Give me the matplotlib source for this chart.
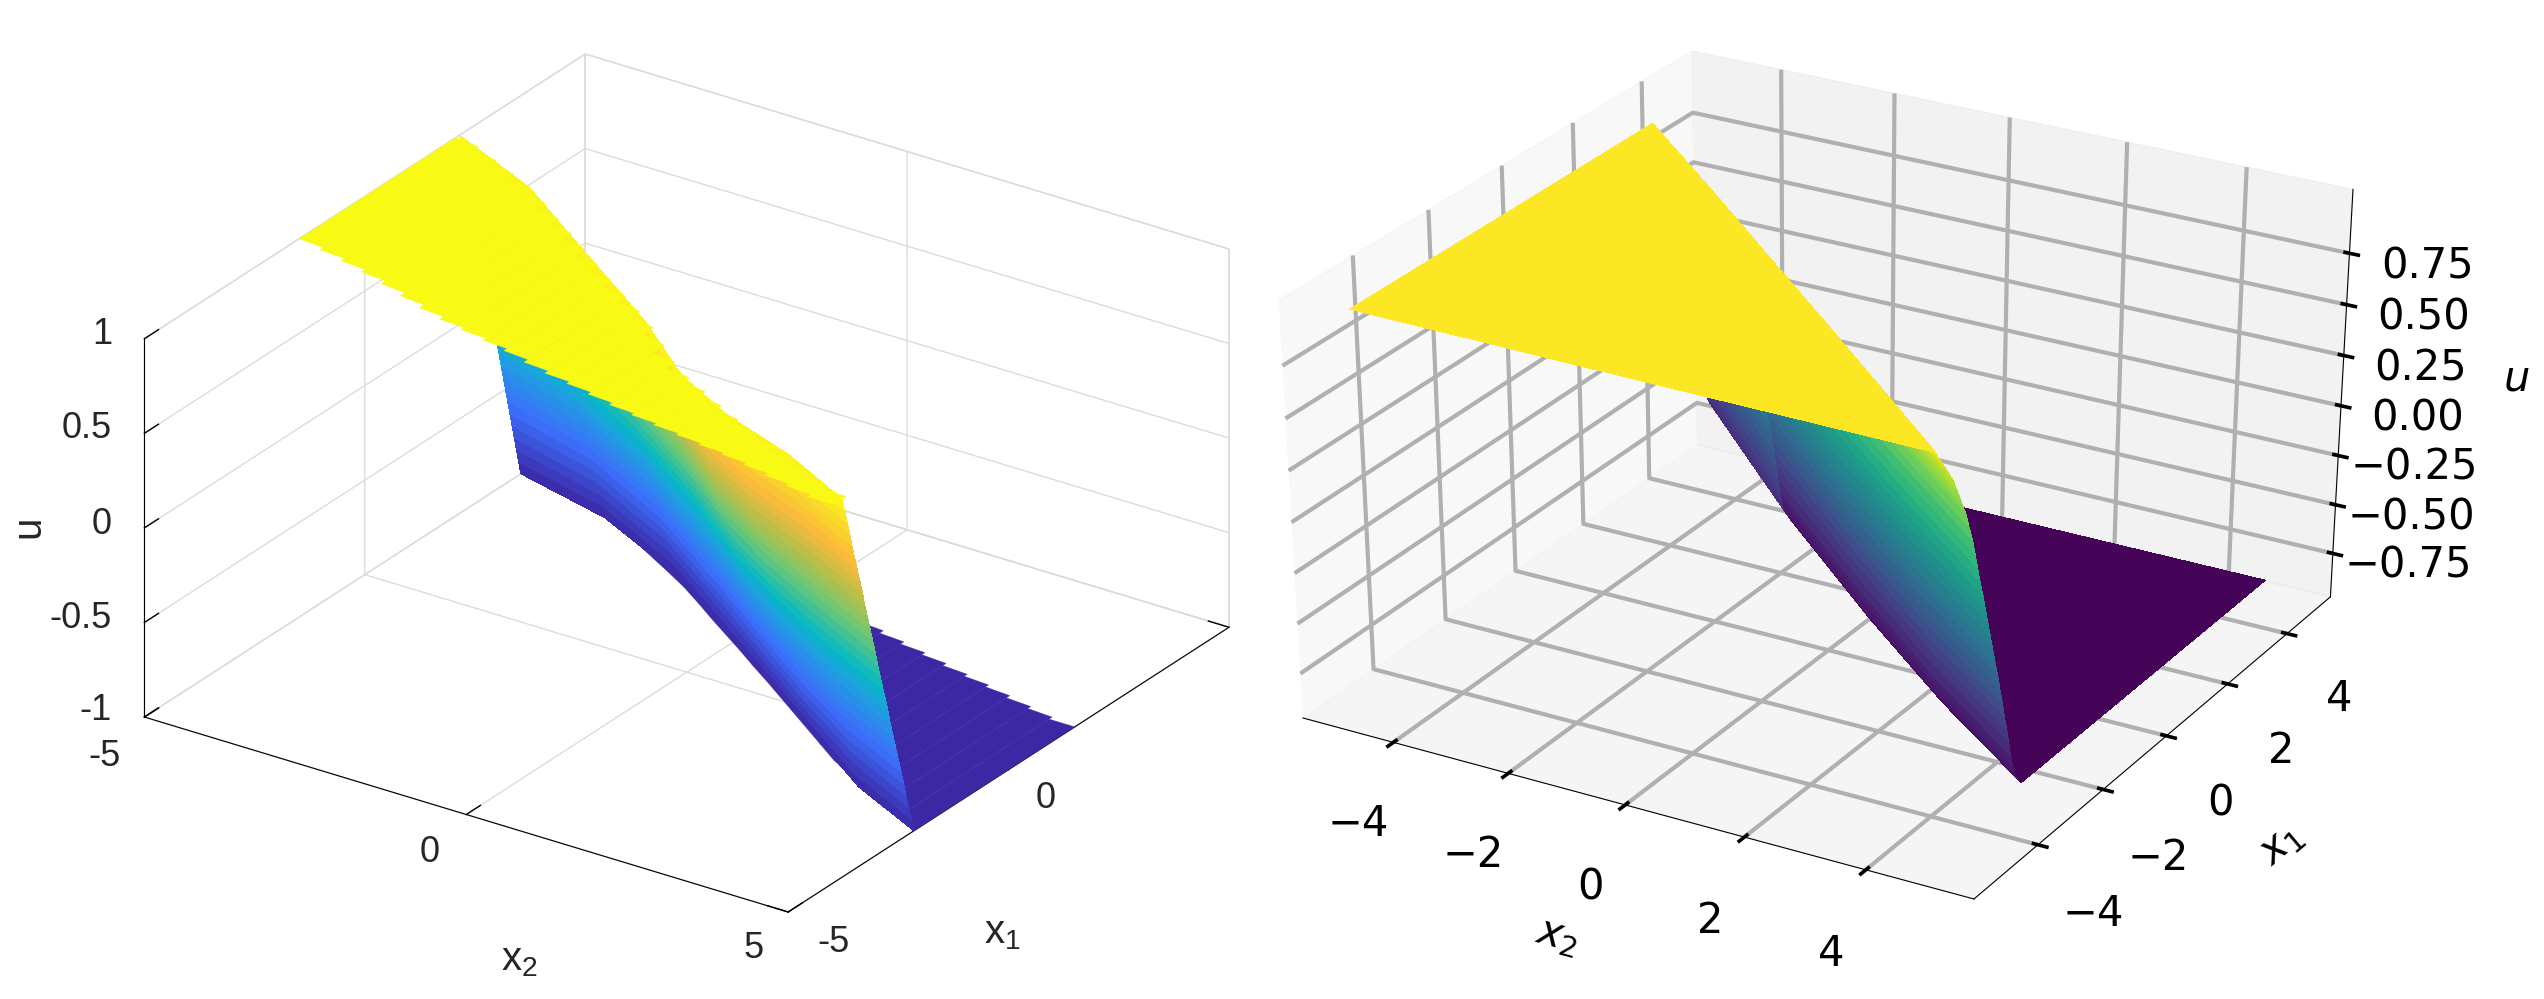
import matplotlib
matplotlib.use('Agg')
import matplotlib.pyplot as plt
import numpy as np
from matplotlib.colors import LinearSegmentedColormap
from mpl_toolkits.mplot3d import proj3d
from mpl_toolkits.mplot3d.art3d import Poly3DCollection

plt.rcParams['mathtext.fontset'] = 'dejavusans'
plt.rcParams['mathtext.rm'] = 'Liberation Sans'
plt.rcParams['mathtext.it'] = 'Liberation Sans:italic'

W, H = 2544, 999

# Left panel: strips along x2, plateau u=1 and floor u=-1
strip_x2 = [-5, -4.6, -4.2, -3.8, -3.4, -3, -2.6, -2.2, -1.8, -1.4, -1, -0.6, -0.2,
            0.2, 0.6, 1, 1.4, 1.8, 2.2, 2.6, 3, 3.4, 3.8, 4.2, 4.6, 5]
top_lo = [-1.49, -1.6, -1.71, -1.83, -1.97, -2.12, -2.27, -2.39, -2.49, -2.58, -2.68, -2.81, -2.92,
          -3.01, -3.11, -3.21, -3.29, -3.37, -3.44, -3.51, -3.58, -3.67, -3.77, -3.87, -3.97]
top_hi = [2.06, 1.87, 1.68, 1.48, 1.24, 0.96, 0.69, 0.41, 0.12, -0.16, -0.43, -0.68, -0.95,
          -1.28, -1.64, -1.92, -2.14, -2.36, -2.57, -2.78, -2.97, -3.16, -3.34, -3.51, -3.69]
floor_lo = [3.58, 3.47, 3.36, 3.25, 3.14, 2.92, 2.7, 2.47, 2.24, 2.0, 1.73, 1.45, 1.18,
            0.91, 0.63, 0.36, 0.08, -0.2, -0.48, -0.76, -1.04, -1.27, -1.49, -1.72, -1.95, -2.15]
floor_hi = [3.95, 3.85, 3.75, 3.65, 3.55, 3.45, 3.35, 3.25, 3.15, 3.05, 2.95, 2.85, 2.75,
            2.65, 2.55, 2.45, 2.33, 2.22, 2.12, 2.01, 1.91, 1.81, 1.7, 1.6, 1.5]

# Left panel: the steep front, x1 at each u level for some x2 stations
front_x2 = [-5, -3.4, -1.7, 0, 1.3, 2.4, 3.7, 5]
front_u = [1, 0.929, 0.857, 0.786, 0.714, 0.643, 0.571, 0.5, 0.429, 0.357, 0.286, 0.214, 0.143, 0.071, 0,
           -0.071, -0.143, -0.214, -0.286, -0.357, -0.429, -0.5, -0.571, -0.643, -0.714, -0.786, -0.857, -0.929, -1]
front_x1 = [
    [2.15, 2.20, 2.25, 2.30, 2.35, 2.40, 2.45, 2.50, 2.55, 2.60, 2.65, 2.70, 2.75, 2.80, 2.85,
     2.90, 2.94, 2.99, 3.04, 3.09, 3.14, 3.19, 3.24, 3.29, 3.34, 3.39, 3.44, 3.49, 3.54],
    [1.40, 1.46, 1.52, 1.58, 1.64, 1.70, 1.76, 1.83, 1.89, 1.95, 2.01, 2.07, 2.13, 2.19, 2.25,
     2.31, 2.37, 2.43, 2.49, 2.55, 2.61, 2.68, 2.74, 2.80, 2.86, 2.92, 2.98, 3.04, 3.10],
    [0.22, 0.30, 0.37, 0.44, 0.51, 0.59, 0.66, 0.73, 0.80, 0.88, 0.95, 1.02, 1.09, 1.17, 1.24,
     1.31, 1.38, 1.46, 1.53, 1.60, 1.67, 1.75, 1.82, 1.89, 1.96, 2.04, 2.11, 2.18, 2.25],
    [-0.95, -0.87, -0.80, -0.73, -0.66, -0.58, -0.51, -0.44, -0.37, -0.29, -0.22, -0.15, -0.08, 0, 0.07,
     0.14, 0.21, 0.29, 0.36, 0.43, 0.50, 0.58, 0.65, 0.72, 0.79, 0.87, 0.94, 1.01, 1.08],
    [-2.0, -1.92, -1.84, -1.77, -1.69, -1.61, -1.53, -1.45, -1.37, -1.3, -1.22, -1.14, -1.06, -0.98, -0.91,
     -0.83, -0.75, -0.67, -0.59, -0.52, -0.44, -0.36, -0.28, -0.2, -0.12, -0.05, 0.03, 0.11, 0.19],
    [-2.6, -2.53, -2.46, -2.39, -2.31, -2.24, -2.17, -2.1, -2.03, -1.96, -1.89, -1.81, -1.74, -1.67, -1.6,
     -1.53, -1.46, -1.39, -1.31, -1.24, -1.17, -1.1, -1.03, -0.96, -0.89, -0.81, -0.74, -0.67, -0.6],
    [-3.1, -3.04, -2.99, -2.93, -2.87, -2.81, -2.76, -2.7, -2.64, -2.59, -2.53, -2.47, -2.41, -2.36, -2.3,
     -2.24, -2.19, -2.13, -2.07, -2.01, -1.96, -1.9, -1.84, -1.79, -1.73, -1.67, -1.61, -1.56, -1.5],
    [-3.78, -3.72, -3.66, -3.6, -3.55, -3.49, -3.43, -3.37, -3.31, -3.26, -3.2, -3.14, -3.08, -3.02, -2.97,
     -2.91, -2.85, -2.79, -2.73, -2.68, -2.62, -2.56, -2.5, -2.44, -2.38, -2.33, -2.27, -2.21, -2.15],
]

# Right panel
pred_front_x2 = [-4.8, -2.7, 0.2, 2.5, 4.75]
pred_front_u_back = [1, 0.96, 0.92, 0.88, 0.83, 0.79, 0.75, 0.71, 0.67, 0.61, 0.54, 0.48, 0.42, 0.36, 0.3, 0.23,
                     0.17, 0.11, 0.05, -0.02, -0.08, -0.14, -0.2, -0.26, -0.33, -0.39, -0.45, -0.49, -0.53, -0.57, -0.6]
pred_front_u = [1, 0.95, 0.9, 0.85, 0.8, 0.75, 0.7, 0.65, 0.6, 0.525, 0.45, 0.375, 0.3, 0.225, 0.15, 0.075,
                0, -0.075, -0.15, -0.225, -0.3, -0.375, -0.45, -0.525, -0.6, -0.675, -0.75, -0.8, -0.85, -0.89, -0.93]
pred_front_x1 = [
    [3.0, 3.08, 3.16, 3.24, 3.32, 3.38, 3.43, 3.49, 3.54, 3.6, 3.66, 3.71, 3.76, 3.81, 3.86, 3.9,
     3.95, 4.0, 4.05, 4.1, 4.14, 4.19, 4.23, 4.28, 4.32, 4.36, 4.4, 4.43, 4.46, 4.53, 4.6],
    [1.18, 1.3, 1.41, 1.53, 1.64, 1.73, 1.81, 1.89, 1.97, 2.06, 2.14, 2.21, 2.28, 2.35, 2.42, 2.49,
     2.56, 2.63, 2.7, 2.77, 2.84, 2.91, 2.97, 3.03, 3.09, 3.15, 3.21, 3.26, 3.3, 3.4, 3.5],
    [-1.37, -1.26, -1.14, -1.02, -0.9, -0.82, -0.74, -0.66, -0.58, -0.49, -0.4, -0.33, -0.26, -0.19, -0.12, -0.05,
     0.02, 0.09, 0.16, 0.23, 0.30, 0.36, 0.42, 0.49, 0.55, 0.61, 0.67, 0.72, 0.76, 0.86, 0.96],
    [-3.4, -3.28, -3.16, -3.04, -2.91, -2.83, -2.74, -2.66, -2.57, -2.48, -2.38, -2.31, -2.24, -2.17, -2.09, -2.02,
     -1.94, -1.87, -1.8, -1.73, -1.65, -1.58, -1.51, -1.45, -1.38, -1.32, -1.26, -1.21, -1.16, -1.06, -0.95],
    [-5.4, -5.27, -5.13, -4.99, -4.85, -4.76, -4.66, -4.57, -4.47, -4.37, -4.26, -4.18, -4.1, -4.02, -3.93, -3.85,
     -3.77, -3.69, -3.61, -3.53, -3.44, -3.37, -3.29, -3.22, -3.14, -3.07, -3.0, -2.95, -2.89, -2.78, -2.66],
]
pred_top_x2 = [-4.8, -0.38, 4.75]
pred_top_lo = [-5.3, -5.38, -5.45]
pred_top_hi = [3.0, -0.87, -5.4]
pred_floor_x2 = [-1.5, 4.75]
pred_floor_lo = [2.6, -2.66]
pred_floor_hi = [5.25, 5.25]

u_min_pred = -0.93
u_max_pred = 1.0

parula_like = LinearSegmentedColormap.from_list('parula_like', [
    (0, '#3c28a5'), (0.2, '#3c6efa'), (0.35, '#1ea0e1'), (0.43, '#05b9c3'), (0.58, '#6ec873'),
    (0.7, '#bebe46'), (0.8, '#fab93c'), (0.92, '#fadc28'), (1, '#fafa14')])

fig = plt.figure(figsize=(W / 100, H / 100), dpi=100)


def mesh(x2, u, x1):
    x1 = np.array(x1)
    xx = np.tile(np.array(x2)[:, None], (1, x1.shape[1]))
    zz = np.tile(np.array(u), (x1.shape[0], 1))
    return xx, x1, zz


def strips(x2, lo, hi, u, lean_lo=0.3, lean_hi=0.3):
    # teeth on the edges: each strip leans part of the way to the next one
    verts = []
    lo2 = list(lo[1:]) + [lo[-1]]
    hi2 = list(hi[1:]) + [hi[-1]]
    for a, b, l, h, l2, h2 in zip(x2[:-1], x2[1:], lo, hi, lo2, hi2):
        verts.append([(a, l, u), (b, l + lean_lo * (l2 - l), u), (b, h + lean_hi * (h2 - h), u), (a, h, u)])
    return verts


def fit_axes(ax, corner_x0, corner_x1, corner_y0, corner_y1):
    # each corner is (x, y, z, pixel) ; places the box on the wanted pixels
    ax.apply_aspect = lambda position=None: None
    M = ax.get_proj()
    ux0 = proj3d.proj_transform(*corner_x0[:3], M)[0]
    ux1 = proj3d.proj_transform(*corner_x1[:3], M)[0]
    uy0 = proj3d.proj_transform(*corner_y0[:3], M)[1]
    uy1 = proj3d.proj_transform(*corner_y1[:3], M)[1]
    sx = (corner_x1[3] - corner_x0[3]) / (ux1 - ux0)
    sy = (corner_y1[3] - corner_y0[3]) / (uy1 - uy0)
    vx0, vx1 = ax.viewLim.intervalx
    vy0, vy1 = ax.viewLim.intervaly
    left = corner_x0[3] + (vx0 - ux0) * sx
    right = corner_x0[3] + (vx1 - ux0) * sx
    top = corner_y0[3] + (vy1 - uy0) * sy
    bottom = corner_y0[3] + (vy0 - uy0) * sy
    ax.set_position([left / W, 1 - bottom / H, (right - left) / W, (bottom - top) / H])


def label_px(x, y, s, size=26, **kw):
    fig.text(x / W, 1 - y / H, s, family='Liberation Sans', fontsize=size, color='#262626', **kw)


# Left panel
ax1 = fig.add_subplot(projection='3d', proj_type='ortho', computed_zorder=False)
ax1.patch.set_alpha(0)
ax1.add_collection3d(Poly3DCollection(strips(strip_x2, floor_lo, floor_hi, -1, lean_lo=1), facecolors='#3c28a5',
                                      edgecolors='#3c28a5', linewidths=0.3, zorder=1))
xx, yy, zz = mesh(front_x2, front_u, front_x1)
ax1.plot_surface(xx, yy, zz, cmap=parula_like, vmin=-1, vmax=1, rstride=1, cstride=1, shade=False,
                 linewidth=0, antialiased=False, zorder=2)
ax1.add_collection3d(Poly3DCollection(strips(strip_x2, top_lo, top_hi, 1), facecolors='#f9fa14',
                                      edgecolors='#f9fa14', linewidths=0.3, zorder=3))
ax1.view_init(elev=26.35, azim=-55.6)
ax1.set_box_aspect((1, 1, 0.543))
ax1.set_xlim(-5, 5, view_margin=0)
ax1.set_ylim(-5, 5, view_margin=0)
ax1.set_zlim(-1, 1, view_margin=0)
ax1.set_xticks([-5, 0, 5], labels=[])
ax1.set_yticks([-5, 0, 5], labels=[])
ax1.set_zticks([-1, -0.5, 0, 0.5, 1], labels=[])
for axis in (ax1.xaxis, ax1.yaxis, ax1.zaxis):
    axis.set_pane_color((1, 1, 1, 1))
    axis.pane.set_edgecolor('#dcdcdc')
    axis._axinfo['grid']['color'] = '#dcdcdc'
    axis._axinfo['grid']['linewidth'] = 1.0
    axis._axinfo['axisline']['color'] = '#262626'
    axis._axinfo['axisline']['linewidth'] = 1.1
    axis._axinfo['tick']['linewidth'] = {True: 1.0, False: 0.5}
    axis._axinfo['tick']['color'] = '#262626'
    axis._axinfo['tick']['inward_factor'] = 0
    axis._axinfo['tick']['outward_factor'] = 0.4
ax1.zaxis.set_ticks_position('lower')
fit_axes(ax1, (-5, -5, -1, 144.4), (5, 5, -1, 1229), (5, -5, -1, 912), (-5, 5, 1, 54))

for y, s in zip([710, 619, 524, 428, 334], ['-1', '-0.5', '0', '0.5', '1']):
    label_px(112, y, s, ha='right', va='center')
for x, y, s in zip([104, 430, 754], [756, 852, 949], ['-5', '0', '5']):
    label_px(x, y, s, ha='center', va='center')
for x, y, s in zip([833, 1046], [943, 799], ['-5', '0']):
    label_px(x, y, s, ha='center', va='center')
label_px(519, 960, 'x$_2$', size=29, ha='center', va='center', math_fontfamily='custom')
label_px(1002, 933, 'x$_1$', size=29, ha='center', va='center', math_fontfamily='custom')
label_px(28, 527, 'u', size=29, ha='center', va='center', rotation=90)

# Right panel
ax2 = fig.add_subplot(projection='3d', computed_zorder=False)
ax2.patch.set_alpha(0)
norm_max = u_max_pred + 0.01
floor_xx = np.tile(np.array(pred_floor_x2)[:, None], (1, 2))
floor_yy = np.column_stack([pred_floor_lo, pred_floor_hi])
ax2.plot_surface(floor_xx, floor_yy, np.full(floor_xx.shape, u_min_pred), cmap='viridis', vmin=u_min_pred - 0.02,
                 vmax=norm_max, rstride=1, cstride=1, shade=False, linewidth=0,
                 antialiased=False, zorder=1)
xx, yy, zz = mesh(pred_front_x2, pred_front_u, pred_front_x1)
zz[0] = pred_front_u_back
ax2.plot_surface(xx, yy, zz, cmap='viridis', vmin=u_min_pred - 0.02, vmax=norm_max, rstride=1, cstride=1,
                 shade=False, linewidth=0, antialiased=False, zorder=2)
top_xx = np.tile(np.array(pred_top_x2)[:, None], (1, 2))
top_yy = np.column_stack([pred_top_lo, pred_top_hi])
ax2.plot_surface(top_xx, top_yy, np.full(top_xx.shape, u_max_pred), cmap='viridis', vmin=u_min_pred - 0.02,
                 vmax=norm_max, rstride=1, cstride=1, shade=False, linewidth=0,
                 antialiased=False, zorder=3)
ax2.set_xlim(-5.6, 5.75, view_margin=0)
ax2.set_ylim(-5.9, 5.5, view_margin=0)
ax2.set_zlim(-0.975, 1.057, view_margin=0)
ax2.set_xticks([-4, -2, 0, 2, 4])
ax2.set_yticks([-4, -2, 0, 2, 4])
ax2.set_zticks([-0.75, -0.5, -0.25, 0, 0.25, 0.5, 0.75])
for axis in (ax2.xaxis, ax2.yaxis, ax2.zaxis):
    axis._axinfo['grid']['linewidth'] = 3.0
    axis._axinfo['axisline']['linewidth'] = 3.2
    axis._axinfo['tick']['linewidth'] = {True: 2.6, False: 1}
    axis._axinfo['tick']['inward_factor'] = 0.16
    axis._axinfo['tick']['outward_factor'] = 0.08
ax2.tick_params(axis='x', labelsize=30, pad=27)
ax2.tick_params(axis='y', labelsize=30, pad=25)
ax2.tick_params(axis='z', labelsize=30, pad=23)
ax2.set_xlabel('$x_2$', fontsize=30, labelpad=52)
ax2.set_ylabel('$x_1$', fontsize=30, labelpad=52)
ax2.set_zlabel('$u$', fontsize=30, labelpad=50)
fit_axes(ax2, (-5.6, -5.9, -0.975, 1303), (5.75, 5.5, 1.057, 2353), (5.75, -5.9, -0.975, 899), (-5.6, 5.5, 1.057, 51))

fig.savefig('out.png', dpi=100)
